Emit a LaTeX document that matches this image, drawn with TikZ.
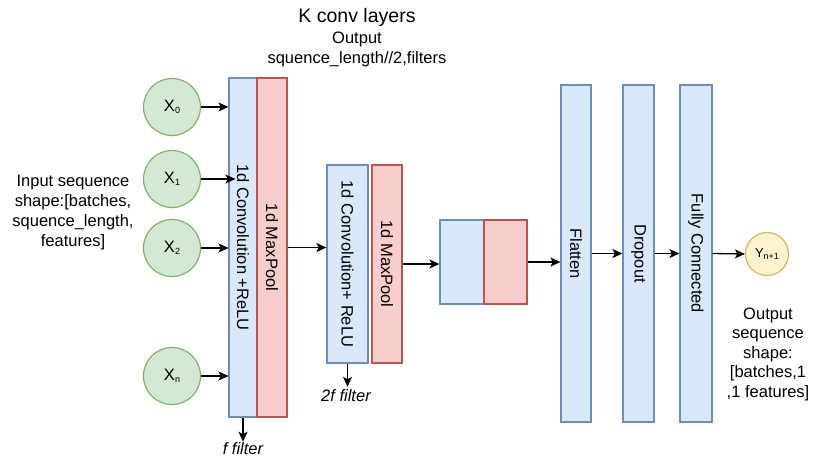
\documentclass[tikz,border=0pt]{standalone}
\usepackage{fontspec}
\setmainfont{Liberation Sans}
\usetikzlibrary{arrows.meta}
\definecolor{bluefill}{HTML}{DAE8FC}
\definecolor{bluedraw}{HTML}{6C8EBF}
\definecolor{redfill}{HTML}{F8CECC}
\definecolor{reddraw}{HTML}{B85450}
\definecolor{greenfill}{HTML}{D5E8D4}
\definecolor{greendraw}{HTML}{82B366}
\definecolor{yellowfill}{HTML}{FFF2CC}
\definecolor{yellowdraw}{HTML}{D6B656}
\newcommand{\txt}{\fontsize{16.5}{20}\selectfont}
\newcommand{\sub}[1]{{\fontsize{9}{9}\selectfont\raisebox{-1.5pt}{#1}}}
\tikzset{
  layerbox/.style={draw=bluedraw, fill=bluefill, line width=1.2pt, inner sep=0pt},
  poolbox/.style={draw=reddraw, fill=redfill, line width=1.2pt, inner sep=0pt},
  innode/.style={circle, draw=greendraw, fill=greenfill, line width=1.2pt, minimum size=57pt, inner sep=0pt, font=\txt},
  outnode/.style={circle, draw=yellowdraw, fill=yellowfill, line width=1.2pt, minimum size=43pt, inner sep=0pt, font=\fontsize{13}{13}\selectfont},
  vlabel/.style={rotate=-90, font=\txt, inner sep=0pt},
  plain/.style={font=\txt, align=center, inner sep=0pt},
  arr/.style={line width=1.3pt, -{Stealth[length=10pt,width=9pt,inset=2.5pt]}},
}
\begin{document}
\begin{tikzpicture}[x=1pt,y=-1pt]
\useasboundingbox (0,0) rectangle (813,459);

% headings
\node[plain, font=\fontsize{19.5}{22}\selectfont] (title) at (357,17) {K conv layers};
\node[plain] (outhead) at (357,49) {Output\\squence\_length//2,filters};

% input nodes
\node[innode] (x0) at (172,107) {X\sub{0}};
\node[innode] (x1) at (172,179) {X\sub{1}};
\node[innode] (x2) at (172,248) {X\sub{2}};
\node[innode] (xn) at (172,376) {X\sub{n}};
\node[plain] (intext) at (73,213) {Input sequence\\shape:[batches,\\squence\_length,\\features]};

% first convolution block
\node[layerbox, minimum width=28pt, minimum height=339pt] (conv1) at (243,247.5) {};
\node[poolbox, minimum width=30pt, minimum height=339pt] (pool1) at (272,247.5) {};
\node[vlabel] at (conv1.center) {1d Convolution +ReLU};
\node[vlabel] at (pool1.center) {1d MaxPool};

% second convolution block
\node[layerbox, minimum width=41pt, minimum height=198pt] (conv2) at (347.5,264) {};
\node[poolbox, minimum width=30pt, minimum height=198pt] (pool2) at (387,264) {};
\node[vlabel] at (conv2.center) {1d Convolution+ ReLU};
\node[vlabel] at (pool2.center) {1d MaxPool};

% further conv layers
\node[layerbox, minimum width=44pt, minimum height=84pt] (b3a) at (462,262) {};
\node[poolbox, minimum width=43pt, minimum height=84pt] (b3b) at (505.5,262) {};

% dense head
\node[layerbox, minimum width=30pt, minimum height=337pt] (flat) at (576,253.5) {};
\node[layerbox, minimum width=31pt, minimum height=337pt] (drop) at (638.5,253.5) {};
\node[layerbox, minimum width=32pt, minimum height=337pt] (fc) at (696,253.5) {};
\node[vlabel] at (flat.center) {Flatten};
\node[vlabel] at (drop.center) {Dropout};
\node[vlabel] at (fc.center) {Fully Connected};

% output
\node[outnode] (y) at (767,254) {Y\sub{n+1}};
\node[plain, font=\fontsize{16.5}{19.5}\selectfont] (outtext) at (768,354) {Output\\sequence\\shape:\\{}[batches,1\\,1 features]};

% filter labels
\node[plain, font=\txt\itshape] (ffil) at (243,449) {f filter};
\node[plain, font=\txt\itshape] (f2fil) at (346,396) {2f filter};

% connectors
\draw[arr] (x0.east) -- (x0.east -| conv1.west);
\draw[arr] (x1.east) -- ([xshift=7pt]x1.east -| conv1.west);
\draw[arr] (x2.east) -- (x2.east -| conv1.west);
\draw[arr] (xn.east) -- (xn.east -| conv1.west);
\draw[arr] (pool1.east) -- (pool1.east -| conv2.west);
\draw[arr] (pool2.east) -- (pool2.east -| b3a.west);
\draw[arr] (b3b.east) -- (b3b.east -| flat.west);
\draw[arr] (flat.east) -- (flat.east -| drop.west);
\draw[arr] (drop.east) -- (drop.east -| fc.west);
\draw[arr] (fc.east) -- (y.west);
\draw[arr] (conv1.south) -- ([yshift=1pt]ffil.north);
\draw[arr] (conv2.south) -- ([yshift=3pt]conv2.south |- f2fil.north);
\end{tikzpicture}
\end{document}
